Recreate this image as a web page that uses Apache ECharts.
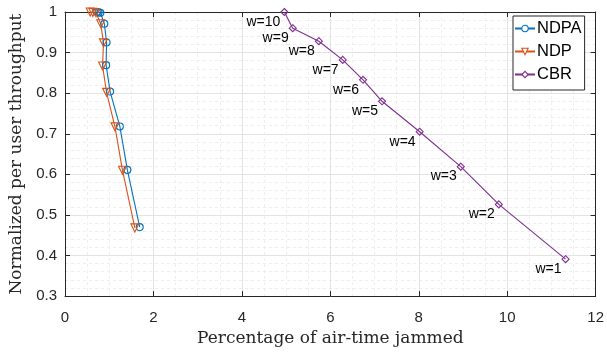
<!DOCTYPE html>
<html><head><meta charset="utf-8">
<script src="https://cdn.jsdelivr.net/npm/echarts@6/dist/echarts.min.js"></script>
<style>html,body{margin:0;padding:0;background:#fff}#c{width:607px;height:352px}</style>
</head><body><div id="c"></div>
<script>
const ndpaX = [0.72, 0.76, 0.80, 0.89, 0.94, 0.93, 1.02, 1.24, 1.41, 1.69];
const ndpaY = [1.0, 0.999, 0.998, 0.971, 0.925, 0.869, 0.804, 0.718, 0.611, 0.470];
const ndpX = [0.57, 0.63, 0.70, 0.81, 0.87, 0.85, 0.94, 1.13, 1.30, 1.58];
const ndpY = [1.0, 0.999, 0.998, 0.971, 0.924, 0.867, 0.802, 0.717, 0.610, 0.468];
const cbrX = [4.96, 5.15, 5.74, 6.28, 6.74, 7.17, 8.02, 8.95, 9.81, 11.32];
const cbrY = [1.0, 0.960, 0.928, 0.882, 0.833, 0.780, 0.705, 0.619, 0.526, 0.391];
const cbrLabels = ['w=10','w=9','w=8','w=7','w=6','w=5','w=4','w=3','w=2','w=1'];
const seriesNames = ['NDPA', 'NDP', 'CBR'];
const xTicks = {min: 0, max: 12, interval: 2};
const yTicks = {min: 0.3, max: 1, interval: 0.1};

const axisColor = '#262626';
const colors = {NDPA: '#0072BD', NDP: '#D95319', CBR: '#7E2F8E'};
const zip = (a, b) => a.map((v, i) => [v, b[i]]);
const chart = echarts.init(document.getElementById('c'));
const tickLabel = {color: axisColor, fontFamily: 'Liberation Sans', fontSize: 15};
const titleStyle = {fontFamily: 'DejaVu Serif', fontSize: 17, color: axisColor};
function mkX(pos, show) {
  return {
    type: 'value', position: pos, min: xTicks.min, max: xTicks.max, interval: xTicks.interval,
    axisLine: {show: true, onZero: false, lineStyle: {color: axisColor, width: 1}},
    axisTick: {show: true, inside: true, length: 5, lineStyle: {color: axisColor}},
    axisLabel: show ? Object.assign({margin: 14}, tickLabel) : {show: false},
    splitLine: {show: show, lineStyle: {color: '#e3e3e3', width: 1}},
    minorTick: {show: false, splitNumber: 4},
    minorSplitLine: {show: show, lineStyle: {color: '#eeeeee', type: [3, 3]}},
    name: show ? 'Percentage of air-time jammed' : '', nameLocation: 'middle', nameGap: 30,
    nameTextStyle: titleStyle
  };
}
function mkY(pos, show) {
  return {
    type: 'value', position: pos, min: yTicks.min, max: yTicks.max, interval: yTicks.interval,
    axisLine: {show: true, onZero: false, lineStyle: {color: axisColor, width: 1}},
    axisTick: {show: true, inside: true, length: 5, lineStyle: {color: axisColor}},
    axisLabel: show ? Object.assign({margin: 8, formatter: v => String(+v.toFixed(1))}, tickLabel) : {show: false},
    splitLine: {show: show, lineStyle: {color: '#e3e3e3', width: 1}},
    minorTick: {show: false, splitNumber: 5},
    minorSplitLine: {show: show, lineStyle: {color: '#eeeeee', type: [3, 3]}},
    name: show ? 'Normalized per user throughput' : '', nameLocation: 'middle', nameGap: 36,
    nameTextStyle: titleStyle
  };
}
const clear = 'rgba(255,255,255,0)';
function ser(name, x, y, symbol, size, rot, extra) {
  const color = colors[name];
  return Object.assign({
    name, type: 'line', data: zip(x, y), symbol, symbolSize: size, symbolRotate: rot,
    xAxisIndex: 0, yAxisIndex: 0, clip: false, animation: false,
    lineStyle: {color, width: 1.1},
    itemStyle: {color: clear, borderColor: color, borderWidth: 1.1}
  }, extra || {});
}
chart.setOption({
  animation: false,
  grid: {left: 65, right: 11, top: 12, bottom: 52, containLabel: false},
  xAxis: [mkX('bottom', true), mkX('top', false)],
  yAxis: [mkY('left', true), mkY('right', false)],
  legend: {
    left: 513, top: 16, orient: 'vertical', itemGap: 6, itemWidth: 20, itemHeight: 8,
    padding: [4, 3, 7, 1],
    backgroundColor: '#fff', borderColor: axisColor, borderWidth: 1,
    textStyle: {fontFamily: 'Liberation Sans', fontSize: 16.5, color: '#000', padding: [0, 0, 0, -3]},
    data: seriesNames.map(n => ({name: n, itemStyle: {color: '#fff', borderColor: colors[n], borderWidth: 1.1}}))
  },
  series: [
    ser('NDPA', ndpaX, ndpaY, 'circle', 7, 0),
    ser('NDP', ndpX, ndpY, 'triangle', 8, 180),
    ser('CBR', cbrX, cbrY, 'diamond', 7, 0, {
      label: {
        show: true, position: 'left', distance: 0, offset: [0, 10],
        formatter: p => cbrLabels[p.dataIndex],
        fontFamily: 'Liberation Sans', fontSize: 14, color: '#000'
      }
    })
  ]
});
</script></body></html>
